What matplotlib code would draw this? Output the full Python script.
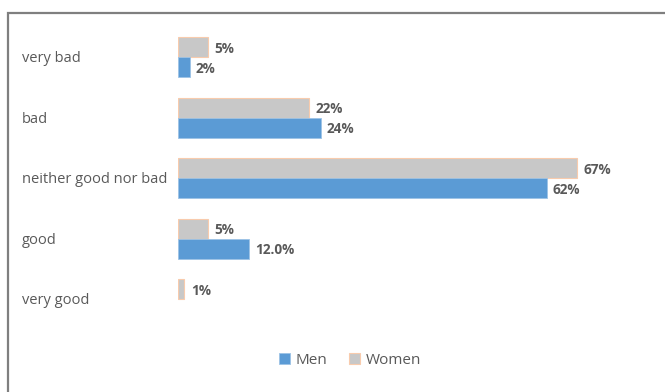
import matplotlib
matplotlib.use("Agg")
import matplotlib.pyplot as plt
from matplotlib.lines import Line2D
from matplotlib import transforms
import numpy as np

categories = ["very bad", "bad", "neither good nor bad", "good", "very good"]
men = [2, 24, 62, 12, 0]
women = [5, 22, 67, 5, 1]
men_labels = ["2%", "24%", "62%", "12.0%", ""]
women_labels = ["5%", "22%", "67%", "5%", "1%"]

W, H = 665, 392
plt.rcParams['font.family'] = ['Open Sans', 'DejaVu Sans']
fig = plt.figure(figsize=(W / 100, H / 100), dpi=100)

# outer frame (top and left only visible)
fx, fy = 7.5 / W, 1 - 12.5 / H
frame = Line2D([1.02, fx, fx], [fy, fy, -0.02], transform=fig.transFigure,
               color="#7f7f7f", linewidth=1.6, solid_joinstyle="miter")
fig.add_artist(frame)

ax_left, ax_right = 178, 654
ax_top, ax_bottom = 27, 329.5
ax = fig.add_axes([ax_left / W, 1 - ax_bottom / H, (ax_right - ax_left) / W, (ax_bottom - ax_top) / H])
xmax = (ax_right - ax_left) / 5.955
ax.set_xlim(0, xmax)
ax.set_ylim(4.5, -0.5)

y = np.arange(len(categories))
h = 0.33
wb = ax.barh(y - h / 2, women, height=h, color="#C8C8C8", edgecolor="#F8CBAD", linewidth=0.8, label="Women")
mb = ax.barh(y + h / 2, men, height=h, color="#5B9BD5", edgecolor="#9DC3E6", linewidth=0.6, label="Men")
for r, v in zip(mb.patches, men):
    if v == 0:
        r.set_visible(False)

for yi, v, lab in zip(y, women, women_labels):
    if lab:
        ax.annotate(lab, (v, yi - h / 2), xytext=(5, -1), textcoords="offset points",
                    va="center", ha="left", fontsize=9.8, fontweight="bold", color="#595959")
for yi, v, lab in zip(y, men, men_labels):
    if lab:
        ax.annotate(lab, (v, yi + h / 2), xytext=(4, -1), textcoords="offset points",
                    va="center", ha="left", fontsize=9.8, fontweight="bold", color="#595959")

ax.set_xticks([])
ax.set_yticks([])
for s in ax.spines.values():
    s.set_visible(False)

tr = transforms.offset_copy(transforms.blended_transform_factory(fig.transFigure, ax.transData),
                            fig=fig, x=0, y=-1.5, units="dots")
for yi, c in zip(y, categories):
    fig.text(22 / W, yi, c, transform=tr, ha="left", va="center", fontsize=10.5, color="#595959")

leg = fig.legend(handles=[mb, wb], labels=["Men", "Women"], loc="center",
                 bbox_to_anchor=(350 / W, 1 - 360 / H), ncol=2, frameon=False,
                 fontsize=11, handlelength=0.75, handleheight=0.75, columnspacing=1.4, handletextpad=0.35)
for t in leg.get_texts():
    t.set_color("#595959")

fig.savefig("out.png", dpi=100)
